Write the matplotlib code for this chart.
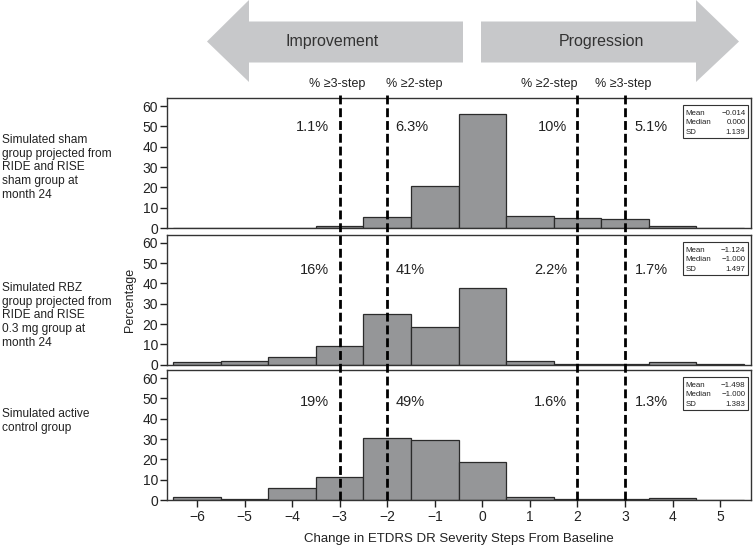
import matplotlib
matplotlib.use('Agg')
import matplotlib.pyplot as plt
from matplotlib.patches import Polygon, Rectangle
from matplotlib.lines import Line2D
from matplotlib.transforms import blended_transform_factory

plt.rcParams['font.family'] = ['Liberation Sans', 'DejaVu Sans']

# --- datos ---
steps = [-6, -5, -4, -3, -2, -1, 0, 1, 2, 3, 4, 5]
sham = [0, 0, 0, 1.1, 5.2, 20.5, 56.0, 5.9, 4.9, 4.3, 0.8, 0]
rbz = [1.2, 2.0, 3.7, 9.3, 25.0, 18.5, 37.8, 2.0, 0.5, 0.4, 1.3, 0.2]
active = [1.3, 0.6, 5.9, 11.5, 30.5, 29.3, 18.6, 1.3, 0.3, 0.3, 1.2, 0.2]

group_labels = [
    "Simulated sham\ngroup projected from\nRIDE and RISE\nsham group at\nmonth 24",
    "Simulated RBZ\ngroup projected from\nRIDE and RISE\n0.3 mg group at\nmonth 24",
    "Simulated active\ncontrol group",
]
pct_sham = ["1.1%", "6.3%", "10%", "5.1%"]
pct_rbz = ["16%", "41%", "2.2%", "1.7%"]
pct_active = ["19%", "49%", "1.6%", "1.3%"]

stat_names = ["Mean", "Median", "SD"]
stats_sham = ["\u22120.014", "0.000", "1.139"]
stats_rbz = ["\u22121.124", "\u22121.000", "1.497"]
stats_active = ["\u22121.498", "\u22121.000", "1.383"]

thresholds = [-3, -2, 2, 3]
threshold_labels = ["% \u22653-step", "% \u22652-step", "% \u22652-step", "% \u22653-step"]
yticks = [0, 10, 20, 30, 40, 50, 60]

# --- figura ---
W, H = 753, 551
fig = plt.figure(figsize=(W / 100, H / 100), dpi=100)

def fx(px):
    return px / W

def fy(py):
    return (H - py) / H

left, right = 167, 751
panel_tops = [98, 234.7, 370]
panel_h = 130
bar_color = '#959698'
edge_color = '#2b2b2b'

series = [sham, rbz, active]
pcts = [pct_sham, pct_rbz, pct_active]
stats = [stats_sham, stats_rbz, stats_active]
label_y = [0.775, 0.725, 0.752]
group_y = [167.5, 315.5, 421]

axes = []
for i in range(3):
    top = panel_tops[i]
    ax = fig.add_axes([fx(left), fy(top + panel_h), fx(right - left), panel_h / H])
    axes.append(ax)
    ax.bar(steps, series[i], width=1.0, color=bar_color, edgecolor=edge_color, linewidth=0.9)
    ax.set_xlim(-6.63, 5.65)
    ax.set_ylim(0, 64)
    ax.set_yticks(yticks)
    ax.tick_params(axis='y', direction='out', length=5, width=1, labelsize=10, pad=1.5, colors='#222222')
    for s in ax.spines.values():
        s.set_color('#333333')
        s.set_linewidth(1)
    if i < 2:
        ax.set_xticks([])
    else:
        ax.set_xticks(steps)
        ax.tick_params(axis='x', direction='out', length=5, width=1, labelsize=10, pad=2.5, colors='#222222')
        ax.set_xlabel("Change in ETDRS DR Severity Steps From Baseline", fontsize=9.5, labelpad=6, color='#222222')

    # porcentajes
    yy = label_y[i]
    tr = blended_transform_factory(ax.transData, ax.transAxes)
    offs = [(-0.22, 'right'), (0.18, 'left'), (-0.22, 'right'), (0.2, 'left')]
    for t, (o, ha), lab in zip(thresholds, offs, pcts[i]):
        ax.text(t + o, yy, lab, transform=tr, ha=ha, va='center', fontsize=10.5, color='#222222')

    # caja de estadisticas
    bx0, bx1 = 0.8836, 0.9949
    by1 = 1 - 7 / panel_h
    by0 = by1 - 33 / panel_h
    ax.add_patch(Rectangle((bx0, by0), bx1 - bx0, by1 - by0, transform=ax.transAxes,
                           facecolor='white', edgecolor='#333333', linewidth=0.8, zorder=6))
    for k in range(3):
        ry = by1 - (4 + 9.5 * k + 1) / panel_h
        ax.text(bx0 + 2.5 / (right - left), ry, stat_names[k], transform=ax.transAxes,
                ha='left', va='top', fontsize=5.7, color='#222222', zorder=7)
        ax.text(bx1 - 2.5 / (right - left), ry, stats[i][k], transform=ax.transAxes,
                ha='right', va='top', fontsize=5.7, color='#222222', zorder=7)

    fig.text(fx(2), fy(group_y[i]), group_labels[i], ha='left', va='center',
             fontsize=8.6, linespacing=1.2, color='#222222')

fig.text(fx(130), fy(300), "Percentage", rotation=90, ha='center', va='center', fontsize=9, color='#222222')

# lineas discontinuas a traves de los paneles
trl = blended_transform_factory(axes[2].transData, fig.transFigure)
for t in thresholds:
    ln = Line2D([t, t], [fy(500), fy(95)], transform=trl, color='black', linewidth=2.0,
                linestyle=(0, (3.2, 1.4)), zorder=10)
    fig.add_artist(ln)

# etiquetas de umbral arriba
tr1 = blended_transform_factory(axes[0].transData, fig.transFigure)
top_align = [(-3.05, 'center'), (-2.02, 'left'), (2.0, 'right'), (2.97, 'center')]
for (xx, ha), lab in zip(top_align, threshold_labels):
    fig.text(xx, fy(84), lab, transform=tr1, ha=ha, va='center', fontsize=9, color='#222222')

# flechas grandes
arrow_color = '#c7c8ca'
body_t, body_b, tip_y = fy(21.5), fy(62.5), fy(41.5)
head_t, head_b = fy(0), fy(82)
left_arrow = [(fx(207), tip_y), (fx(249), head_t), (fx(249), body_t), (fx(463), body_t),
              (fx(463), body_b), (fx(249), body_b), (fx(249), head_b)]
right_arrow = [(fx(739), tip_y), (fx(696), head_t), (fx(696), body_t), (fx(481), body_t),
               (fx(481), body_b), (fx(696), body_b), (fx(696), head_b)]
for pts in (left_arrow, right_arrow):
    fig.add_artist(Polygon(pts, closed=True, transform=fig.transFigure,
                           facecolor=arrow_color, edgecolor='none', zorder=1))
fig.text(fx(332), tip_y, "Improvement", ha='center', va='center', fontsize=11.5, color='#333333')
fig.text(fx(601), tip_y, "Progression", ha='center', va='center', fontsize=11.5, color='#333333')

fig.savefig("out.png", dpi=100)
